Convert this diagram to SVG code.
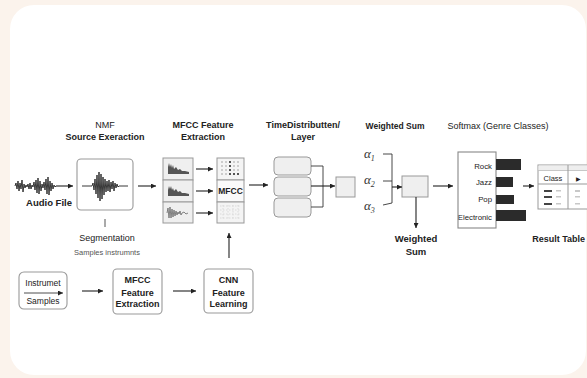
<svg xmlns="http://www.w3.org/2000/svg" width="587" height="378" viewBox="0 0 587 378">
<defs>
<marker id="ah" viewBox="0 0 6 6" refX="6" refY="3" markerWidth="5" markerHeight="5" markerUnits="userSpaceOnUse" orient="auto"><path d="M0,0 L6,3 L0,6 z" fill="#222"/></marker>
<style>
text{font-family:"Liberation Sans",Arial,sans-serif;fill:#222;}
.t{font-size:9px;font-weight:bold;text-anchor:middle;}
.r{font-size:9px;text-anchor:middle;}
.ar{stroke:#222;stroke-width:1.1;fill:none;marker-end:url(#ah);}
.ln{stroke:#333;stroke-width:0.9;fill:none;}
.box{fill:#fff;stroke:#999;stroke-width:1.1;}
.gbox{fill:#efefef;stroke:#999;stroke-width:1;}
.wave{fill:none;stroke:#222;stroke-width:0.9;stroke-linejoin:round;}
.lab{font-size:7.8px;text-anchor:end;}
.al{font-family:"Liberation Serif",serif;font-style:italic;font-size:13px;fill:#333;}
.bar{fill:#2b2b2b;}
.dk{fill:#444;}
.lt{fill:#c8c8c8;}
</style>
</defs>
<rect x="0" y="0" width="587" height="378" fill="#fbf3ec"/>
<rect x="10" y="5" width="576" height="370" rx="24" fill="#fff"/>

<g id="audio">
<path class="wave" d="M15,186 L16,183 L17,189 L18,181 L19,191 L20,183 L21,189 L22,180 L23,192 L24,184 L25,188 L26,185 L27,187 L28,184 L29,189 L30,183 L31,189 L32,185 L33,187 L34,182 L35,190 L36,180 L37,193 L38,178 L39,194 L40,181 L41,191 L42,184 L43,188 L44,182 L45,190 L46,179 L47,194 L48,177 L49,195 L50,181 L51,191 L52,183 L53,189 L54,185 L55,187 L56,186"/>
<text class="t" x="49" y="206" style="font-size:9.5px">Audio File</text>
</g>

<g id="nmf">
<text class="r" x="105" y="128">NMF</text>
<text class="t" x="105" y="140">Source Exeraction</text>
<rect class="box" x="77" y="159" width="56" height="51" rx="4"/>
<path class="wave" d="M82,186 L92,186 L93,183 L94,190 L95,179 L96,194 L97,175 L98,198 L99,172 L100,201 L101,174 L102,199 L103,177 L104,195 L105,179 L106,192 L107,181 L108,191 L109,180 L110,192 L111,182 L112,189 L113,181 L114,191 L115,183 L116,188 L117,184 L118,187 L119,186 L128,186"/>
<line x1="105" y1="219" x2="105" y2="227" stroke="#555" stroke-width="1"/>
<text x="107" y="241" style="font-size:9px;text-anchor:middle">Segmentation</text>
<text x="107" y="255" style="font-size:7.5px;text-anchor:middle;fill:#555">Samples instrumnts</text>
</g>

<g id="mfcc">
<text class="t" x="203" y="128">MFCC Feature</text>
<text class="t" x="203" y="140">Extraction</text>
<rect class="gbox" x="163" y="158" width="30" height="22"/>
<rect class="gbox" x="163" y="180" width="30" height="22"/>
<rect class="gbox" x="163" y="202" width="30" height="21"/>
<path fill="#555" d="M168,174 L168,167 L169,163 L170,167 L171,164 L172,168 L173,165 L174,169 L176,167 L178,170 L180,169 L182,171 L185,171 L189,172 L189,174 Z"/>
<path fill="#555" d="M168,196 L168,190 L169,186 L170,189 L171,186 L172,190 L173,188 L174,191 L176,189 L178,192 L180,191 L182,193 L185,193 L189,194 L189,196 Z"/>
<path fill="none" stroke="#666" stroke-width="0.8" d="M167,213 L168,208 L169,218 L170,207 L171,218 L172,209 L173,217 L174,210 L175,216 L176,211 L177,215 L178,212 L179,214 L180,211 L181,215 L182,213 L184,212 L186,214 L188,213"/>
<rect class="gbox" x="217" y="158" width="27" height="22" style="fill:#f4f4f4"/>
<rect class="gbox" x="217" y="180" width="27" height="22" style="fill:#fafafa"/>
<rect class="gbox" x="217" y="202" width="27" height="21" style="fill:#f4f4f4"/>
<g fill="#ccc">
<rect x="221" y="161" width="2" height="2"/><rect x="225" y="161" width="2" height="2"/><rect x="233" y="161" width="2" height="2"/><rect x="237" y="161" width="2" height="2"/>
<rect x="221" y="165" width="2" height="2"/><rect x="225" y="165" width="2" height="2"/><rect x="233" y="165" width="2" height="2"/><rect x="237" y="165" width="2" height="2"/>
<rect x="221" y="169" width="2" height="2"/><rect x="225" y="169" width="2" height="2"/><rect x="233" y="169" width="2" height="2"/><rect x="237" y="169" width="2" height="2"/>
<rect x="221" y="173" width="2" height="2"/><rect x="225" y="173" width="2" height="2"/>
</g>
<g fill="#555">
<rect x="229" y="161" width="2" height="2"/><rect x="229" y="165" width="2" height="2"/><rect x="229" y="169" width="2" height="2"/><rect x="229" y="173" width="2" height="2"/><rect x="233" y="173" width="2" height="2"/><rect x="237" y="173" width="2" height="2"/>
</g>
<text x="230.5" y="194" style="font-size:8.5px;font-weight:bold;text-anchor:middle">MFCC</text>
<g stroke="#d4d4d4" stroke-width="0.8" stroke-dasharray="1.5,1.5">
<line x1="220" y1="206" x2="241" y2="206"/><line x1="220" y1="210" x2="241" y2="210"/><line x1="220" y1="214" x2="241" y2="214"/><line x1="220" y1="218" x2="241" y2="218"/>
<line x1="223" y1="205" x2="223" y2="220"/><line x1="228" y1="205" x2="228" y2="220"/><line x1="233" y1="205" x2="233" y2="220"/><line x1="238" y1="205" x2="238" y2="220"/>
</g>
</g>

<g id="timedist">
<text class="t" x="303" y="128">TimeDistributten/</text>
<text class="t" x="303" y="140">Layer</text>
<rect class="gbox" x="274" y="157" width="37" height="18" rx="4"/>
<rect class="gbox" x="274" y="177" width="37" height="19" rx="4"/>
<rect class="gbox" x="274" y="198" width="37" height="19" rx="4"/>
<rect class="gbox" x="336" y="177" width="19" height="20"/>
</g>

<g id="weighted">
<text class="t" x="395" y="129" style="font-size:8.5px">Weighted Sum</text>
<text class="al" x="364" y="158">α<tspan font-size="8" dy="3">1</tspan></text>
<text class="al" x="364" y="184">α<tspan font-size="8" dy="3">2</tspan></text>
<text class="al" x="364" y="210">α<tspan font-size="8" dy="3">3</tspan></text>
<path class="ln" d="M383,154 L392,154 L392,203 L383,205 M383,181 L392,181"/>
<rect class="gbox" x="402" y="176" width="26" height="21"/>
<text class="t" x="416" y="242" style="font-size:9.5px">Weighted</text>
<text class="t" x="416" y="255" style="font-size:9.5px">Sum</text>
</g>

<g id="softmax">
<text class="r" x="498" y="129">Softmax (Genre Classes)</text>
<text class="lab" x="492" y="169">Rock</text>
<text class="lab" x="492" y="185">Jazz</text>
<text class="lab" x="492" y="202">Pop</text>
<text class="lab" x="492" y="220">Electronic</text>
<rect x="458" y="152" width="38" height="76" fill="none" stroke="#888" stroke-width="1.1"/>
<rect class="bar" x="496" y="159" width="25" height="11"/>
<rect class="bar" x="496" y="177" width="17" height="10"/>
<rect class="bar" x="496" y="195" width="18" height="9"/>
<rect class="bar" x="496" y="210" width="30" height="11"/>
</g>

<g id="result">
<rect x="538" y="165" width="52" height="44" fill="#fff" stroke="#999" stroke-width="1"/>
<rect x="538.5" y="165.5" width="51" height="5" fill="#eee"/>
<line x1="538" y1="170.5" x2="590" y2="170.5" stroke="#bbb" stroke-width="0.8"/>
<line x1="538" y1="184" x2="590" y2="184" stroke="#999" stroke-width="1"/>
<line x1="568" y1="165" x2="568" y2="209" stroke="#999" stroke-width="1"/>
<text x="553" y="181" style="font-size:7.5px;text-anchor:middle">Class</text>
<text x="578" y="181" style="font-size:6px;text-anchor:middle">▶</text>
<rect class="dk" x="544" y="190" width="8" height="2"/><rect class="dk" x="544" y="196" width="8" height="2"/><rect class="dk" x="544" y="203" width="8" height="2"/>
<rect class="lt" x="556" y="190" width="5" height="1.5"/><rect class="lt" x="556" y="196" width="5" height="1.5"/><rect class="lt" x="556" y="203" width="5" height="1.5"/>
<rect class="lt" x="575" y="190" width="5" height="2"/><rect class="lt" x="575" y="196" width="5" height="1.5"/><rect class="lt" x="575" y="203" width="5" height="1.5"/>
<text x="585" y="242" style="font-size:9px;font-weight:bold;text-anchor:end">Result Table</text>
</g>

<g id="instrument">
<rect class="box" x="19" y="272" width="48" height="37" rx="5"/>
<text x="43" y="286" style="font-size:8.5px;text-anchor:middle">Instrumet</text>
<line class="ar" x1="24" y1="293" x2="63" y2="293" style="stroke-width:0.8"/>
<text x="43" y="304" style="font-size:8.5px;text-anchor:middle">Samples</text>
</g>

<g id="mfcc2">
<rect class="box" x="113" y="269" width="49" height="45" rx="4"/>
<text class="t" x="137.5" y="282.5">MFCC</text>
<text class="t" x="137.5" y="295.5">Feature</text>
<text class="t" x="137.5" y="307">Extraction</text>
</g>

<g id="cnn">
<rect class="box" x="204" y="269" width="49" height="44" rx="4"/>
<text class="t" x="228.5" y="282.5">CNN</text>
<text class="t" x="228.5" y="295.5">Feature</text>
<text class="t" x="228.5" y="307">Learning</text>
</g>

<g id="connectors">
<line class="ar" x1="56" y1="186" x2="73" y2="186"/>
<line class="ar" x1="138" y1="186" x2="156" y2="186"/>
<line class="ar" x1="196" y1="169" x2="213" y2="169"/>
<line class="ar" x1="196" y1="191" x2="213" y2="191"/>
<line class="ar" x1="196" y1="213" x2="213" y2="213"/>
<line class="ar" x1="249" y1="185" x2="268" y2="185"/>
<line class="ar" x1="229" y1="258" x2="229" y2="233"/>
<path class="ln" d="M311,166 L323,166 L323,207 L311,207"/>
<line class="ar" x1="311" y1="186" x2="335" y2="186"/>
<line class="ar" x1="392" y1="187" x2="402" y2="187"/>
<line class="ar" x1="416" y1="197" x2="416" y2="228"/>
<line class="ar" x1="433" y1="186" x2="453" y2="186"/>
<line class="ar" x1="523" y1="186" x2="534" y2="186"/>
<line class="ar" x1="82" y1="291" x2="103" y2="291"/>
<line class="ar" x1="173" y1="291" x2="196" y2="291"/>
</g>
</svg>
